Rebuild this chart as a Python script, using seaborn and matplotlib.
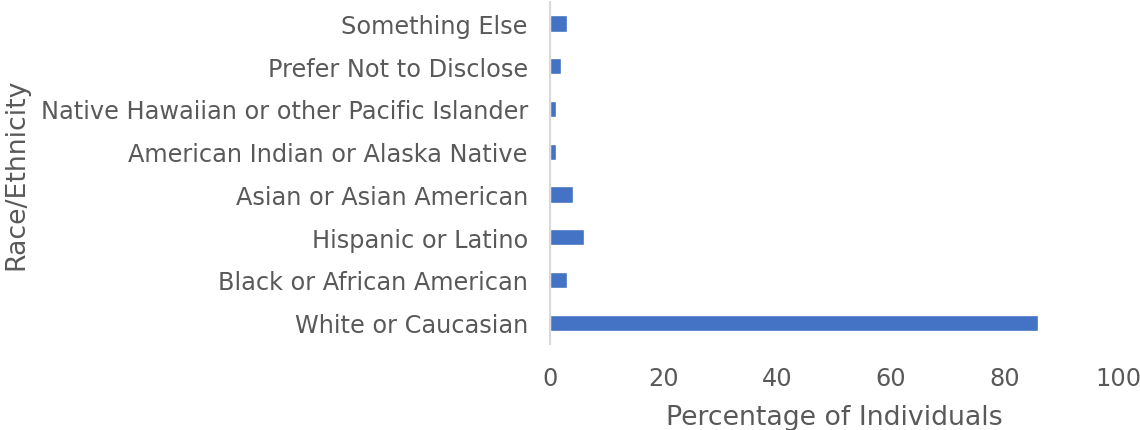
import pandas as pd
import matplotlib.pyplot as plt
import seaborn as sns

categories = [
    "Something Else",
    "Prefer Not to Disclose",
    "Native Hawaiian or other Pacific Islander",
    "American Indian or Alaska Native",
    "Asian or Asian American",
    "Hispanic or Latino",
    "Black or African American",
    "White or Caucasian",
]
percentages = [3, 2, 1, 1, 4, 6, 3, 86]

df = pd.DataFrame({"group": categories, "pct": percentages})

sns.set_style("white")
plt.rcParams["font.family"] = ["DejaVu Sans"]

fig = plt.figure(figsize=(11.4, 4.31), dpi=100)
ax = fig.add_axes([0.4825, 0.1995, 0.4982, 0.7935])

sns.barplot(data=df, x="pct", y="group", color="#4472C4", width=0.38,
            saturation=1, ax=ax)

text_color = "#595959"
ax.set_xlim(0, 100)
ax.set_xticks([0, 20, 40, 60, 80, 100])
ax.tick_params(axis="both", length=0, labelsize=17.3, labelcolor=text_color)
ax.tick_params(axis="x", pad=16)
ax.tick_params(axis="y", pad=16)
ax.set_xlabel("Percentage of Individuals", fontsize=19.3, color=text_color, labelpad=10)
ax.set_ylabel("Race/Ethnicity", fontsize=19.3, color=text_color, labelpad=8)

for side in ["top", "right", "bottom"]:
    ax.spines[side].set_visible(False)
ax.spines["left"].set_color("#D9D9D9")
ax.spines["left"].set_linewidth(1.5)

fig.savefig("out.png", dpi=100)
